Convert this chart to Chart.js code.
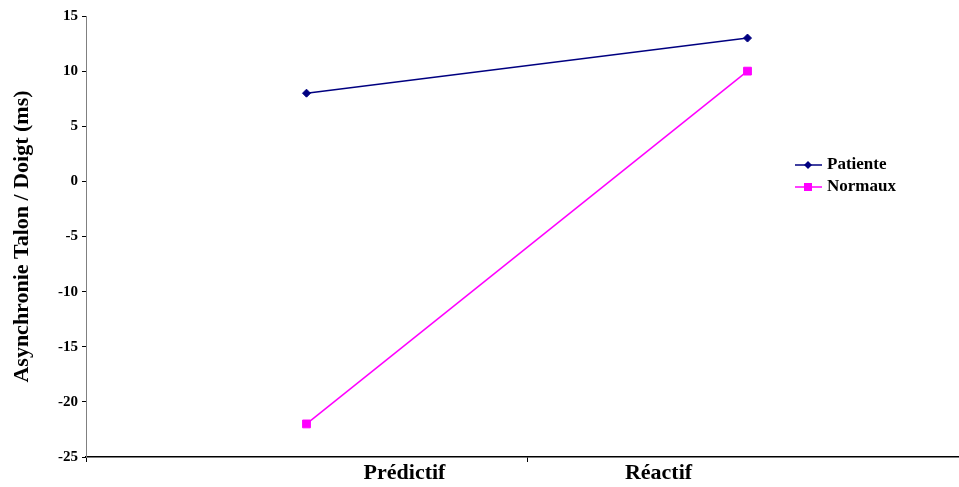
<!DOCTYPE html>
<html>
<head>
<meta charset="utf-8">
<script src="https://cdn.jsdelivr.net/npm/chart.js@4"></script>
<style>
  body { margin: 0; background: #fff; }
  #wrap { width: 959px; height: 487px; overflow: hidden; }
</style>
</head>
<body>
<div id="wrap"><canvas id="lineChart" width="990" height="487"></canvas></div>
<script>
const categories = ['Prédictif', 'Réactif'];
const patiente = [8, 13];
const normaux = [-22, 10];
const yMin = -25, yMax = 15, yStep = 5;

// the category labels sit off-centre in the original
const labelShift = [98, -89];

const serif = 'Liberation Serif';

const extras = {
  id: 'extras',
  afterDraw(chart) {
    const ctx = chart.ctx;
    const xs = chart.scales.x;
    ctx.save();
    ctx.fillStyle = '#000';
    ctx.font = 'bold 22px "' + serif + '"';
    ctx.textAlign = 'center';
    ctx.textBaseline = 'middle';
    categories.forEach((c, i) => {
      ctx.fillText(c, xs.getPixelForValue(i) + labelShift[i], 473);
    });

    // legend: line with marker, like the spreadsheet one
    ctx.font = 'bold 17px "' + serif + '"';
    ctx.textAlign = 'left';
    chart.data.datasets.forEach((ds, i) => {
      const y = 165 + i * 22;
      ctx.strokeStyle = ds.borderColor;
      ctx.lineWidth = 1.5;
      ctx.beginPath();
      ctx.moveTo(795, y);
      ctx.lineTo(822, y);
      ctx.stroke();
      ctx.fillStyle = ds.backgroundColor;
      ctx.beginPath();
      if (ds.pointStyle === 'rect') {
        ctx.rect(804, y - 4, 8, 8);
      } else {
        ctx.moveTo(808, y - 4);
        ctx.lineTo(812, y);
        ctx.lineTo(808, y + 4);
        ctx.lineTo(804, y);
        ctx.closePath();
      }
      ctx.fill();
      ctx.fillStyle = '#000';
      ctx.fillText(ds.label, 827, y);
    });
    ctx.restore();
  }
};

new Chart(document.getElementById('lineChart'), {
  type: 'line',
  data: {
    labels: categories,
    datasets: [
      {
        label: 'Patiente',
        data: patiente,
        borderColor: '#000080',
        backgroundColor: '#000080',
        borderWidth: 1.5,
        pointStyle: 'rectRot',
        pointRadius: 4,
        pointBorderWidth: 1,
        fill: false
      },
      {
        label: 'Normaux',
        data: normaux,
        borderColor: '#ff00ff',
        backgroundColor: '#ff00ff',
        borderWidth: 1.5,
        pointStyle: 'rect',
        pointRadius: 5.5,
        pointBorderWidth: 1,
        fill: false
      }
    ]
  },
  options: {
    responsive: false,
    animation: false,
    layout: { padding: { top: 16, right: 22, bottom: 0, left: 0 } },
    plugins: {
      legend: { display: false },
      tooltip: { enabled: false }
    },
    scales: {
      x: {
        offset: true,
        grid: { offset: true, drawOnChartArea: false, tickLength: 5, color: '#000' },
        border: { color: '#000', width: 1.5 },
        ticks: { display: false },
        afterFit: s => { s.height = 30; }
      },
      y: {
        min: yMin,
        max: yMax,
        ticks: {
          stepSize: yStep,
          color: '#000',
          padding: 4,
          font: { family: serif, weight: 'bold', size: 15 }
        },
        grid: { drawOnChartArea: false, tickLength: 4, color: '#000' },
        border: { color: '#808080' },
        title: {
          display: true,
          text: 'Asynchronie Talon / Doigt (ms)',
          color: '#000',
          padding: { top: 9, bottom: 0 },
          font: { family: serif, weight: 'bold', size: 22 }
        },
        afterFit: s => { s.width = 86; }
      }
    }
  },
  plugins: [extras]
});
</script>
</body>
</html>
